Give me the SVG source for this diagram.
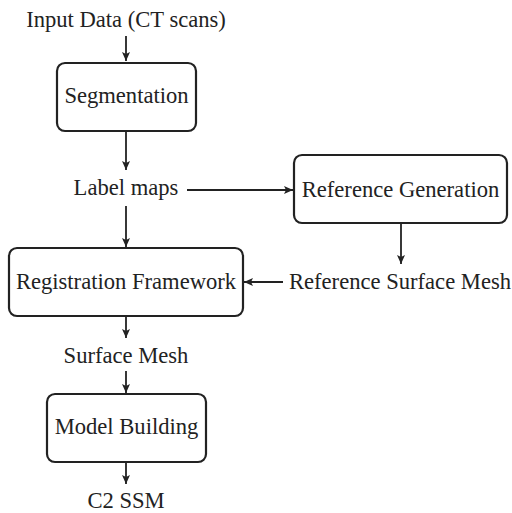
<svg xmlns="http://www.w3.org/2000/svg" width="512" height="513" viewBox="0 0 512 513">
<defs>
<marker id="ah" markerWidth="10" markerHeight="8" refX="9" refY="4" orient="auto" markerUnits="userSpaceOnUse">
<path d="M0,0 L9,4 L0,8 L2,4 Z" fill="#222"/>
</marker>
<style>
text{font-family:"Liberation Serif","Times New Roman",serif;font-size:22.6px;fill:#222;text-anchor:middle}
.box{fill:#fff;stroke:#222;stroke-width:2.2}
.c{stroke:#222;stroke-width:1.8;fill:none;marker-end:url(#ah)}
</style>
</defs>
<rect width="512" height="513" fill="#fff"/>
<g id="connectors">
<line class="c" x1="126" y1="36" x2="126" y2="61"/>
<line class="c" x1="126" y1="131" x2="126" y2="170"/>
<line class="c" x1="187" y1="190" x2="293" y2="190"/>
<line class="c" x1="126" y1="206" x2="126" y2="247"/>
<line class="c" x1="401" y1="223" x2="401" y2="264"/>
<line class="c" x1="283" y1="282" x2="244" y2="282"/>
<line class="c" x1="126" y1="316" x2="126" y2="338"/>
<line class="c" x1="126" y1="371" x2="126" y2="393"/>
<line class="c" x1="126" y1="462" x2="126" y2="484"/>
</g>
<g id="input"><text x="126" y="27">Input Data (CT scans)</text></g>
<g id="segmentation"><rect class="box" x="57" y="63" width="139" height="68" rx="8"/><text x="126.5" y="103">Segmentation</text></g>
<g id="labelmaps"><text x="126" y="195">Label maps</text></g>
<g id="refgen"><rect class="box" x="294" y="155" width="213" height="68" rx="8"/><text x="400.5" y="197">Reference Generation</text></g>
<g id="registration"><rect class="box" x="9" y="248" width="234" height="68" rx="8"/><text x="126" y="289">Registration Framework</text></g>
<g id="refmesh"><text x="400" y="289">Reference Surface Mesh</text></g>
<g id="surfacemesh"><text x="126" y="363">Surface Mesh</text></g>
<g id="modelbuilding"><rect class="box" x="47" y="394" width="159" height="68" rx="8"/><text x="126.5" y="434">Model Building</text></g>
<g id="c2ssm"><text x="126" y="508">C2 SSM</text></g>
</svg>
